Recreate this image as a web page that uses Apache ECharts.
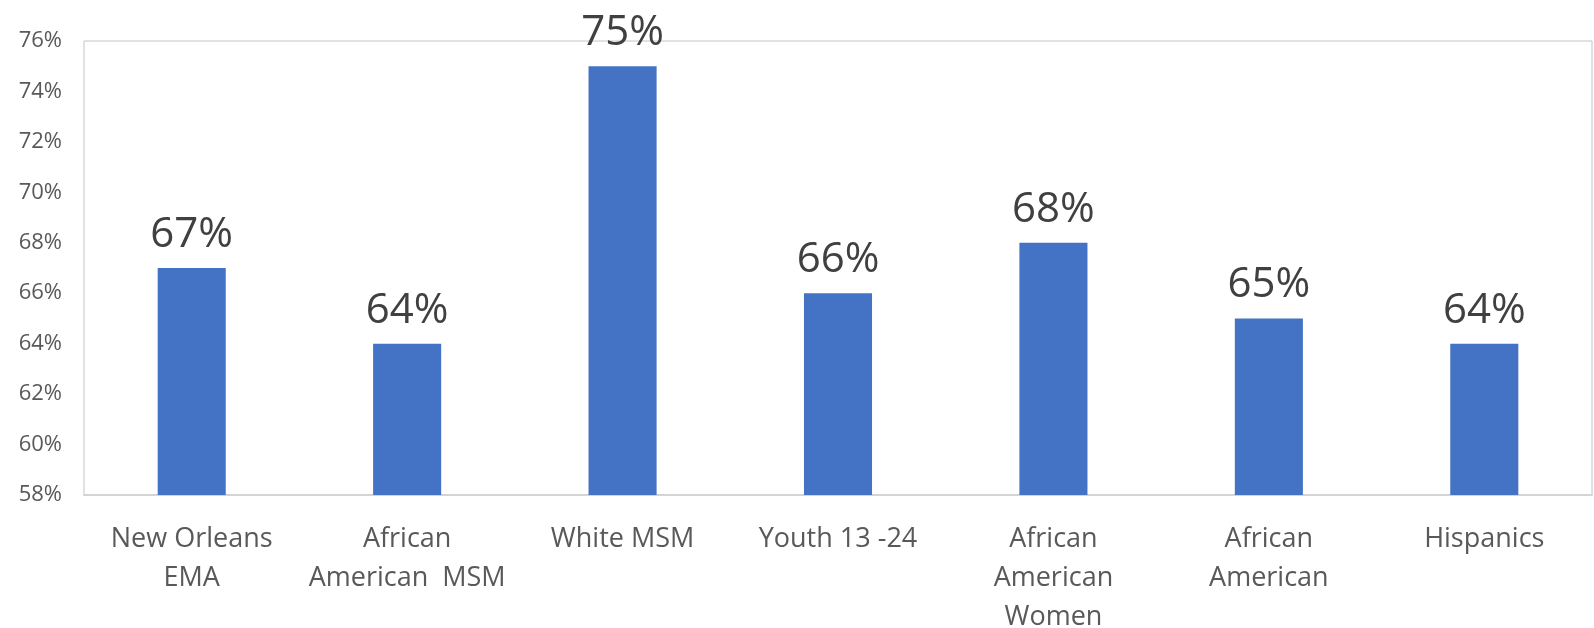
<!DOCTYPE html>
<html>
<head>
<meta charset="utf-8">
<script src="https://cdn.jsdelivr.net/npm/echarts@6/dist/echarts.min.js"></script>
<style>
  html, body { margin: 0; padding: 0; background: #ffffff; }
  #chart { width: 1594px; height: 628px; }
</style>
</head>
<body>
<div id="chart"></div>
<script>
// Group labels (line breaks as wrapped under the axis)
const categories = [
  'New Orleans\nEMA',
  'African\nAmerican  MSM',
  'White MSM',
  'Youth 13 -24',
  'African\nAmerican\nWomen',
  'African\nAmerican',
  'Hispanics'
];
// Percentage values per group
const values = [67, 64, 75, 66, 68, 65, 64];
// Value axis range and step (percent)
const axisMin = 58;
const axisMax = 76;
const axisStep = 2;

const chart = echarts.init(document.getElementById('chart'), null, { renderer: 'canvas' });

chart.setOption({
  animation: false,
  backgroundColor: '#ffffff',
  grid: {
    left: 84, right: 2, top: 41, bottom: 133,
    outerBoundsMode: 'none',
    containLabel: false,
    show: true, borderColor: '#c4c4c4', borderWidth: 1, backgroundColor: 'transparent'
  },
  xAxis: {
    type: 'category',
    data: categories,
    axisTick: { show: false },
    axisLine: { show: true, lineStyle: { color: '#d4d4d4', width: 2 } },
    axisLabel: {
      interval: 0,
      margin: 25,
      fontFamily: 'Open Sans',
      fontSize: 27,
      lineHeight: 39,
      color: '#595959',
      verticalAlign: 'top'
    }
  },
  yAxis: {
    type: 'value',
    min: axisMin,
    max: axisMax,
    interval: axisStep,
    splitLine: { show: false },
    axisLine: { show: false },
    axisTick: { show: false },
    axisLabel: {
      formatter: '{value}%',
      margin: 22,
      fontFamily: 'Open Sans',
      fontSize: 22,
      color: '#595959'
    }
  },
  series: [{
    type: 'bar',
    data: values,
    barWidth: '31.6%',
    itemStyle: { color: '#4472C4' },
    label: {
      show: true,
      position: 'top',
      distance: 12,
      formatter: '{c}%',
      fontFamily: 'Open Sans',
      fontSize: 42,
      color: '#404040'
    }
  }]
});
</script>
</body>
</html>
